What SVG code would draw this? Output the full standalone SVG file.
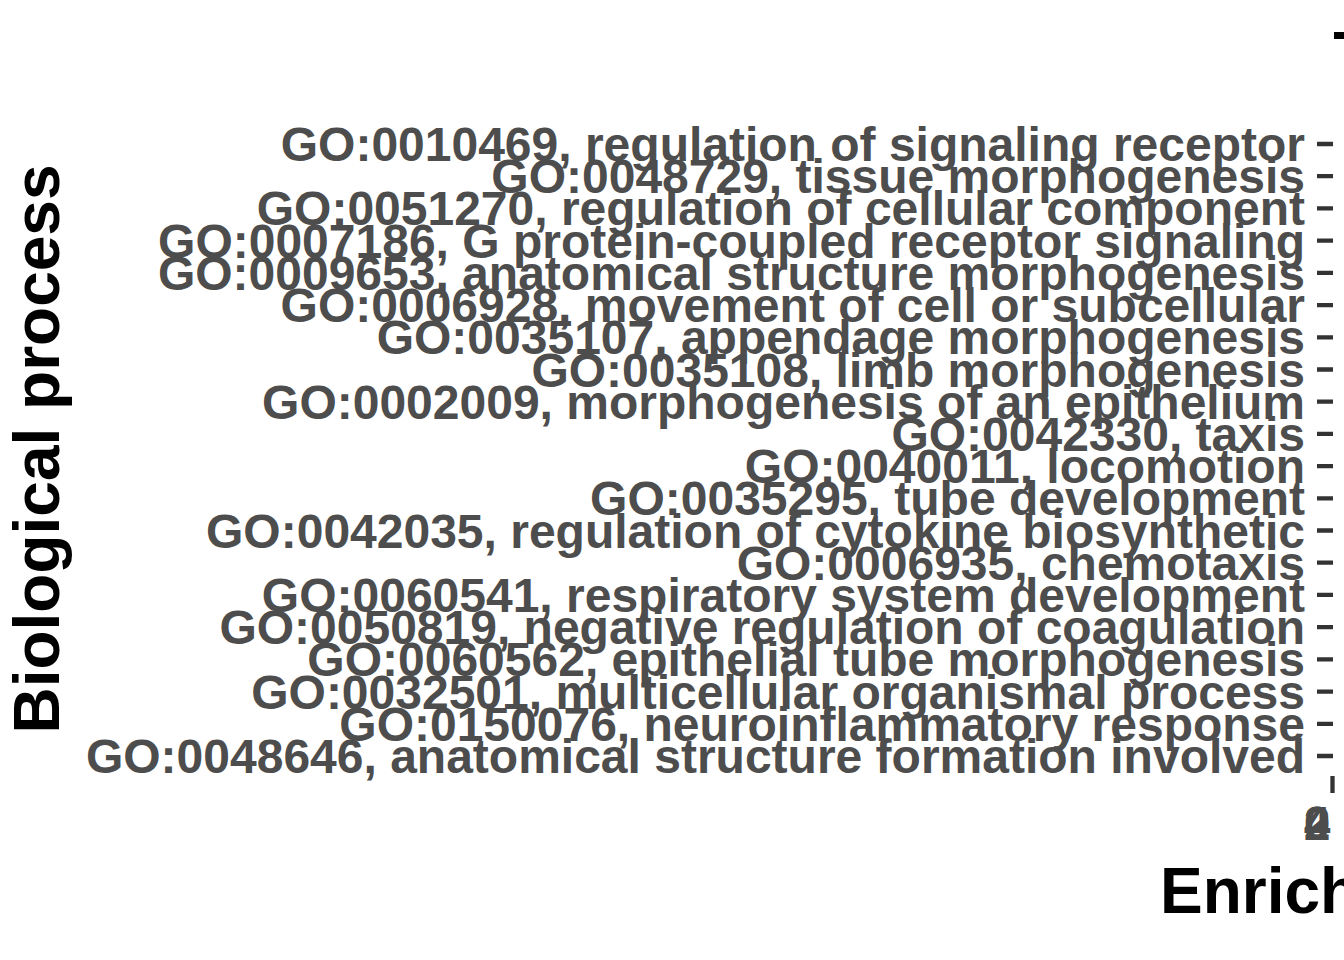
<svg xmlns="http://www.w3.org/2000/svg" width="1344" height="960" viewBox="0 0 1344 960">
<style>
.lab{font-family:"Liberation Sans",Arial,sans-serif;font-weight:bold;font-size:48px;fill:#4D4D4D;text-anchor:end}
.num{font-family:"Liberation Sans",Arial,sans-serif;font-weight:bold;font-size:48px;fill:#4D4D4D;text-anchor:middle}
.title{font-family:"Liberation Sans",Arial,sans-serif;font-weight:bold;font-size:64px;fill:#000000}
.tick{stroke:#333333;stroke-width:4.3;fill:none}
</style>
<rect x="0" y="0" width="1344" height="960" fill="#FFFFFF"/>
<rect x="1334" y="32" width="10" height="7" fill="#000000"/>
<g id="y-labels">
<text class="lab" x="1305" y="161">GO:0010469, regulation of signaling receptor</text>
<text class="lab" x="1305" y="193.2">GO:0048729, tissue morphogenesis</text>
<text class="lab" x="1305" y="225.4">GO:0051270, regulation of cellular component</text>
<text class="lab" x="1305" y="257.6">GO:0007186, G protein-coupled receptor signaling</text>
<text class="lab" x="1305" y="289.8">GO:0009653, anatomical structure morphogenesis</text>
<text class="lab" x="1305" y="322.1">GO:0006928, movement of cell or subcellular</text>
<text class="lab" x="1305" y="354.3">GO:0035107, appendage morphogenesis</text>
<text class="lab" x="1305" y="386.5">GO:0035108, limb morphogenesis</text>
<text class="lab" x="1305" y="418.7">GO:0002009, morphogenesis of an epithelium</text>
<text class="lab" x="1305" y="450.9">GO:0042330, taxis</text>
<text class="lab" x="1305" y="483.1">GO:0040011, locomotion</text>
<text class="lab" x="1305" y="515.3">GO:0035295, tube development</text>
<text class="lab" x="1305" y="547.5">GO:0042035, regulation of cytokine biosynthetic</text>
<text class="lab" x="1305" y="579.7">GO:0006935, chemotaxis</text>
<text class="lab" x="1305" y="611.9">GO:0060541, respiratory system development</text>
<text class="lab" x="1305" y="644.2">GO:0050819, negative regulation of coagulation</text>
<text class="lab" x="1305" y="676.4">GO:0060562, epithelial tube morphogenesis</text>
<text class="lab" x="1305" y="708.6">GO:0032501, multicellular organismal process</text>
<text class="lab" x="1305" y="740.8">GO:0150076, neuroinflammatory response</text>
<text class="lab" x="1305" y="773">GO:0048646, anatomical structure formation involved</text>
</g>
<g id="ticks">
<path class="tick" d="M1317 144H1333M1317 176.2H1333M1317 208.4H1333M1317 240.6H1333M1317 272.8H1333M1317 305.1H1333M1317 337.3H1333M1317 369.5H1333M1317 401.7H1333M1317 433.9H1333M1317 466.1H1333M1317 498.3H1333M1317 530.5H1333M1317 562.7H1333M1317 594.9H1333M1317 627.2H1333M1317 659.4H1333M1317 691.6H1333M1317 723.8H1333M1317 756H1333"/>
<path class="tick" d="M1332.5 776V793"/>
</g>
<g id="x-labels">
<text class="num" x="1317" y="840">0</text>
<text class="num" x="1317" y="840">2</text>
<text class="num" x="1317" y="840">4</text>
</g>
<g id="axis-titles">
<text class="title" x="1160" y="913">Enrichment</text>
<text class="title" transform="translate(59,449) rotate(-90)" text-anchor="middle">Biological process</text>
</g>
</svg>
